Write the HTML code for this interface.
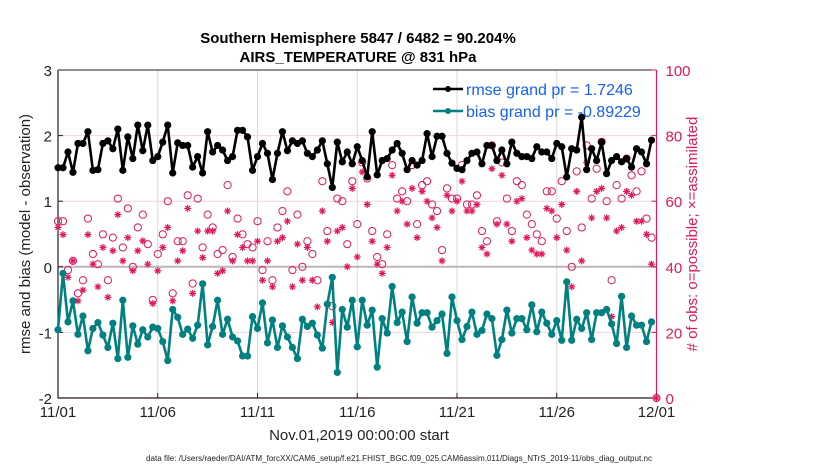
<!DOCTYPE html>
<html><head><meta charset="utf-8">
<style>
body{margin:0;background:#fff;}
svg{display:block;font-family:"Liberation Sans",Arial,sans-serif;}
</style></head>
<body>
<svg id="chart" width="830" height="470" viewBox="0 0 830 470">
<text x="358" y="43" text-anchor="middle" font-size="15" font-weight="bold">Southern Hemisphere 5847 / 6482 = 90.204%</text>
<text x="358" y="62" text-anchor="middle" font-size="15" font-weight="bold">AIRS_TEMPERATURE @ 831 hPa</text>
<g id="grid"></g>
<g id="axes"></g>
<g id="marks"></g>
<g id="legend">
<line x1="433" y1="89" x2="463" y2="89" stroke="#000" stroke-width="2.5"/>
<circle cx="448" cy="89" r="3" fill="#000"/>
<text x="466" y="95" font-size="16" fill="#1560f5">rmse grand pr = 1.7246</text>
<line x1="433" y1="111" x2="463" y2="111" stroke="#008080" stroke-width="2.5"/>
<circle cx="448" cy="111" r="3" fill="#008080"/>
<text x="466" y="117" font-size="16" fill="#1560f5">bias grand pr = -0.89229</text>
</g>
<text x="359" y="440" text-anchor="middle" font-size="15" fill="#222">Nov.01,2019 00:00:00 start</text>
<text x="146" y="461" font-size="8" fill="#222" textLength="506" lengthAdjust="spacingAndGlyphs">data file: /Users/raeder/DAI/ATM_forcXX/CAM6_setup/f.e21.FHIST_BGC.f09_025.CAM6assim.011/Diags_NTrS_2019-11/obs_diag_output.nc</text>
<text transform="translate(30,234) rotate(-90)" text-anchor="middle" font-size="15" fill="#222">rmse and bias (model - observation)</text>
<text transform="translate(697,234) rotate(-90)" text-anchor="middle" font-size="15" fill="#e0185c"># of obs: o=possible; ×=assimilated</text>
</svg>
<script>
const xTickLabels=["11/01","11/06","11/11","11/16","11/21","11/26","12/01"];
const xTickDays=[0,5,10,15,20,25,30];
const yLeftTicks=[3,2,1,0,-1,-2];
const yRightTicks=[100,80,60,40,20,0];
const rmse=[1.51,1.51,1.75,1.44,1.88,1.88,2.06,1.47,1.48,1.88,1.92,1.80,2.10,1.47,1.98,1.65,2.16,1.77,2.16,1.62,1.68,1.90,2.16,1.43,1.89,1.85,1.85,1.52,1.68,1.43,2.06,
1.75,1.85,1.78,1.62,1.68,2.08,2.08,1.98,1.47,1.68,1.88,1.73,1.33,1.73,2.06,1.77,1.92,1.88,1.92,1.73,1.68,1.78,1.92,1.57,1.21,1.90,1.60,1.75,1.57,
1.83,1.62,1.37,2.06,1.40,1.62,1.65,1.78,1.88,1.73,1.48,1.62,1.55,1.62,2.03,1.68,1.99,1.99,1.73,1.58,1.50,1.48,1.62,1.73,1.75,1.57,1.85,1.85,1.62,1.78,
1.57,1.90,1.73,1.68,1.68,1.65,1.83,1.75,1.75,1.65,1.88,1.83,1.37,1.80,1.78,2.28,1.48,1.80,1.62,1.90,1.42,1.62,1.68,1.60,1.65,1.52,1.80,1.75,1.57,1.93,null];
const bias=[-0.96,-0.10,-0.84,-0.52,-1.03,-0.75,-1.28,-0.94,-0.85,-1.04,-1.23,-0.86,-1.40,-0.51,-1.38,-0.90,-1.18,-0.96,-1.07,-0.92,-0.94,-1.14,-1.43,-0.65,-0.77,-1.03,-0.95,-1.09,-0.89,-0.26,-1.19,
-0.91,-0.51,-1.03,-0.80,-1.07,-1.13,-1.36,-1.36,-0.76,-0.94,-0.55,-1.16,-0.81,-1.23,-0.90,-1.07,-1.23,-1.40,-0.80,-0.91,-0.86,-1.04,-1.24,-0.57,-0.16,-1.61,-0.65,-0.92,-0.51,
-1.22,-0.51,-0.89,-0.66,-1.53,-0.79,-1.01,-0.30,-0.85,-0.69,-1.14,-0.46,-0.86,-0.70,-0.70,-0.92,-0.82,-0.72,-1.32,-0.46,-0.82,-1.11,-0.91,-0.69,-1.03,-0.97,-0.72,-0.79,-1.35,-1.11,
-0.66,-1.01,-0.79,-0.79,-0.96,-0.58,-0.99,-0.69,-0.86,-1.03,-0.82,-1.12,-0.23,-1.12,-0.80,-0.94,-0.70,-1.11,-0.70,-0.70,-0.65,-0.87,-1.17,-0.45,-1.23,-0.75,-0.89,-0.89,-1.14,-0.84,null];
const possible=[53.9,53.9,39.0,41.8,31.9,35.9,54.7,43.9,40.8,49.9,35.9,48.9,60.8,45.9,57.8,40.0,52.0,55.9,46.9,29.9,43.9,49.9,60.0,31.9,47.8,47.8,61.8,34.9,60.8,45.9,55.9,
52.0,43.9,45.1,64.9,43.0,54.7,49.9,46.9,45.9,53.9,39.0,47.8,35.9,52.0,57.0,63.0,39.0,55.9,40.0,47.8,43.9,35.9,66.1,50.9,28.0,60.8,60.0,46.9,66.1,
53.0,71.8,66.9,50.9,43.0,40.8,49.9,71.0,60.8,63.0,60.0,71.0,53.0,64.9,66.1,59.0,57.0,45.1,63.9,60.8,60.8,71.0,59.0,59.0,61.8,50.9,47.8,77.0,53.9,71.8,
60.8,50.9,66.1,64.9,55.9,53.0,49.9,47.8,63.0,63.0,54.7,66.1,50.9,40.0,69.1,52.0,77.0,60.8,69.9,78.1,60.0,35.9,64.9,60.8,73.0,67.9,63.0,69.1,54.7,48.9,0];
const assimilated=[52.0,49.8,36.8,41.8,29.6,32.9,49.8,40.8,33.9,45.9,30.7,44.9,55.9,41.8,48.9,38.8,44.9,47.9,40.8,28.8,38.8,45.9,52.0,29.6,41.8,44.9,57.8,31.9,50.9,42.8,50.9,
50.9,38.0,38.8,57.0,41.8,49.8,45.9,41.8,41.8,47.8,35.9,41.8,33.9,47.8,48.9,53.9,33.9,46.9,35.9,45.9,35.9,27.8,57.0,47.8,23.0,50.9,52.0,40.0,63.9,
43.0,68.9,59.0,47.8,40.8,38.0,45.9,67.9,57.0,60.0,53.0,63.9,48.9,63.0,60.0,54.9,52.0,41.8,61.8,57.0,60.0,66.1,57.0,57.0,59.0,45.9,43.9,69.9,53.0,67.9,
53.0,47.8,60.0,60.8,48.9,45.1,43.9,43.9,57.8,57.0,48.9,59.0,45.1,33.9,63.0,41.8,71.8,54.9,63.0,63.9,54.9,24.8,50.9,52.0,63.0,61.8,53.9,53.9,49.9,40.8,0];

const NS="http://www.w3.org/2000/svg";
const L=58,R=656.5,T=70,B=398;
const xScale=d=>L+(R-L)*d/30;
const yLeft=v=>T+(3-v)*(B-T)/5;
const yRight=c=>T+(100-c)*(B-T)/100;
const xIdx=i=>xScale(i*0.25);
function mk(tag,attrs,parent){const e=document.createElementNS(NS,tag);for(const k in attrs)e.setAttribute(k,attrs[k]);parent.appendChild(e);return e;}
const grid=document.getElementById('grid'),axes=document.getElementById('axes'),marks=document.getElementById('marks');
xTickDays.forEach((d,i)=>{if(i>0&&i<xTickDays.length-1){const g=mk('line',{x1:xScale(d),x2:xScale(d),y1:T,y2:B,stroke:'#d8d8d8','stroke-width':1},grid);

}});
yRightTicks.forEach(c=>{if(c>0&&c<100){const g=mk('line',{x1:L,x2:R,y1:yRight(c),y2:yRight(c),stroke:'#f1d3dd','stroke-width':1},grid);

}});
const zl=mk('line',{x1:L,x2:R,y1:yLeft(0),y2:yLeft(0),stroke:'#bdb5b8','stroke-width':2},grid);


const ax=mk('path',{d:`M${L},${T}V${B}H${R}`,stroke:'#2a1a22',fill:'none','stroke-width':1.2},axes);


const tp=mk('line',{x1:L,x2:R,y1:T,y2:T,stroke:'#2a1a22','stroke-width':1},axes);


const ra=mk('line',{x1:R,x2:R,y1:T,y2:B,stroke:'#e0185c','stroke-width':1.2},axes);


yLeftTicks.forEach(v=>{const t=mk('text',{x:L-6,y:yLeft(v)+6,'text-anchor':'end','font-size':15,fill:'#222'},axes);t.textContent=v;


mk('line',{x1:L,x2:L+5,y1:yLeft(v),y2:yLeft(v),stroke:'#2a1a22'},axes);});
yRightTicks.forEach(c=>{const t=mk('text',{x:R+9,y:yRight(c)+6,'font-size':15,fill:'#e0185c'},axes);t.textContent=c;


mk('line',{x1:R-5,x2:R,y1:yRight(c),y2:yRight(c),stroke:'#e0185c'},axes);});
xTickDays.forEach((d,i)=>{const t=mk('text',{x:xScale(d),y:B+19,'text-anchor':'middle','font-size':15,fill:'#222'},axes);t.textContent=xTickLabels[i];


mk('line',{x1:xScale(d),x2:xScale(d),y1:B,y2:B-5,stroke:'#2a1a22'},axes);});
possible.forEach((c,i)=>{const e=mk('circle',{cx:xIdx(i),cy:yRight(c),r:3.6,fill:'none',stroke:'#e0185c','stroke-width':1},marks);

});
assimilated.forEach((c,i)=>{const x=xIdx(i),y=yRight(c),s=3.5;
const e=mk('path',{d:`M${x-s},${y}H${x+s}M${x},${y-s}V${y+s}M${x-s*0.7},${y-s*0.7}L${x+s*0.7},${y+s*0.7}M${x-s*0.7},${y+s*0.7}L${x+s*0.7},${y-s*0.7}`,stroke:'#e0185c','stroke-width':1.2,fill:'none'},marks);

});
function series(vals,color,name){let d='';vals.forEach((v,i)=>{if(v===null)return;d+=(d?'L':'M')+xIdx(i)+','+yLeft(v);});
const p=mk('path',{d:d,stroke:color,'stroke-width':2.6,fill:'none','stroke-linejoin':'round'},marks);


vals.forEach((v,i)=>{if(v===null)return;const c=mk('circle',{cx:xIdx(i),cy:yLeft(v),r:3.6,fill:color},marks);

});}
series(rmse,'#000','rmse');
series(bias,'#008080','bias');
</script>
</body></html>
